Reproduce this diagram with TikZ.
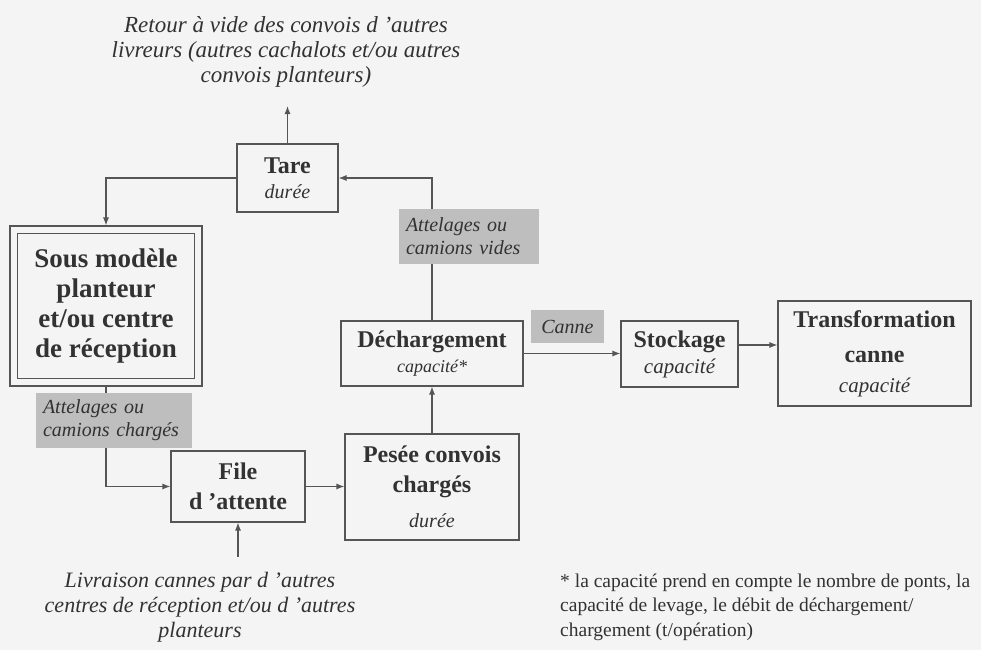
\documentclass[tikz,border=0pt]{standalone}
\usepackage{fontspec}
\setmainfont{Liberation Serif}[ItalicFont={Liberation Serif Italic}, BoldFont={Liberation Serif Bold}]
\usetikzlibrary{arrows.meta}
\definecolor{ink}{RGB}{50,50,50}
\definecolor{edge}{RGB}{85,85,85}
\definecolor{tagfill}{RGB}{190,190,190}
\definecolor{paper}{RGB}{244,244,244}
% small italic line inside a bold box
\newcommand\subtxt[2][20]{{\fontsize{#1}{#1}\selectfont\mdseries\itshape #2}}

\begin{document}
\begin{tikzpicture}[x=1pt,y=-1pt,
  every node/.style={text=ink},
  box/.style={draw=edge, line width=1.1pt, align=center, inner sep=1pt},
  tag/.style={fill=tagfill, inner sep=0pt, font=\fontsize{20}{23}\selectfont\itshape},
  flow/.style={draw=edge, line width=1.1pt, -{Latex[length=8pt,width=6pt]}},
  note/.style={font=\fontsize{23}{25}\selectfont\itshape, align=center, inner sep=0pt}
]
\fill[paper] (0,0) rectangle (981,650);
\useasboundingbox (0,0) rectangle (981,650);

% process boxes
\node[box, minimum width=101, minimum height=68, font=\fontsize{24}{25}\selectfont\bfseries]
  (tare) at (287.5,178) {Tare\\\subtxt{durée}};
\node[box, minimum width=192, minimum height=160, font=\fontsize{27}{30}\selectfont\bfseries]
  (src) at (106,306) {Sous modèle\\planteur\\et/ou centre\\de réception};
\draw[edge, line width=1.1pt] ([shift={(8,8)}]src.north west) rectangle ([shift={(-8,-8)}]src.south east);
\node[box, minimum width=182, minimum height=65, font=\fontsize{24}{25}\selectfont\bfseries]
  (dech) at (432,353.5) {Déchargement\\\subtxt[18]{capacité*}};
\node[box, minimum width=117, minimum height=66, font=\fontsize{24}{26}\selectfont\bfseries]
  (stock) at (679.5,354) {Stockage\\\subtxt[21]{capacité}};
\node[box, minimum width=193, minimum height=105, font=\fontsize{24}{30}\selectfont\bfseries]
  (transf) at (874.5,353.5) {Transformation\\[5pt]canne\\\subtxt[21]{capacité}};
\node[box, minimum width=134, minimum height=71, font=\fontsize{24}{30}\selectfont\bfseries]
  (file) at (238,486.5) {File\\d 'attente};
\node[box, minimum width=174, minimum height=106, font=\fontsize{24}{30}\selectfont\bfseries]
  (pesee) at (432,487) {Pesée convois\\chargés\\[5pt]\subtxt{durée}};

% free texts
\node[note] (top) at (286,52) {Retour à vide des convois d 'autres\\livreurs (autres cachalots et/ou autres\\convois planteurs)};
\node[note, font=\fontsize{22}{25}\selectfont\itshape] (bot) at (200,607) {Livraison cannes par d 'autres\\centres de réception et/ou d 'autres\\planteurs};
\node[anchor=west, align=left, inner sep=0pt, font=\fontsize{19.5}{24.5}\selectfont]
  (foot) at (560,607) {* la capacité prend en compte le nombre de ponts, la\\capacité de levage, le débit de déchargement/\\chargement (t/opération)};

\coordinate (topin) at (287.5,106);
\coordinate (botout) at (238,557);

% connectors
\draw[flow] (tare.north) -- (topin);
\draw[flow] (dech.north) |- (tare.east);
\draw[flow] (tare.west) -| (src.north);
\draw[flow] (src.south) |- (file.west);
\draw[flow] (file.east) -- (file.east -| pesee.west);
\draw[flow] (pesee.north) -- (dech.south);
\draw[flow] (dech.east) -- (dech.east -| stock.west);
\draw[flow] ([yshift=9pt]stock.east) -- ([yshift=9pt]stock.east -| transf.west);
\draw[flow] (botout) -- (file.south);

% flow labels
\node[tag, align=left, text width=126, inner xsep=7pt, minimum height=55] (vides) at (469,236.5) {Attelages ou\\camions vides};
\node[tag, align=left, text width=142, inner xsep=7pt, minimum height=55] (charges) at (114,420.5) {Attelages ou\\camions chargés};
\node[tag, align=center, minimum width=73, minimum height=33] (canne) at (567.5,326.5) {Canne};
\end{tikzpicture}
\end{document}
